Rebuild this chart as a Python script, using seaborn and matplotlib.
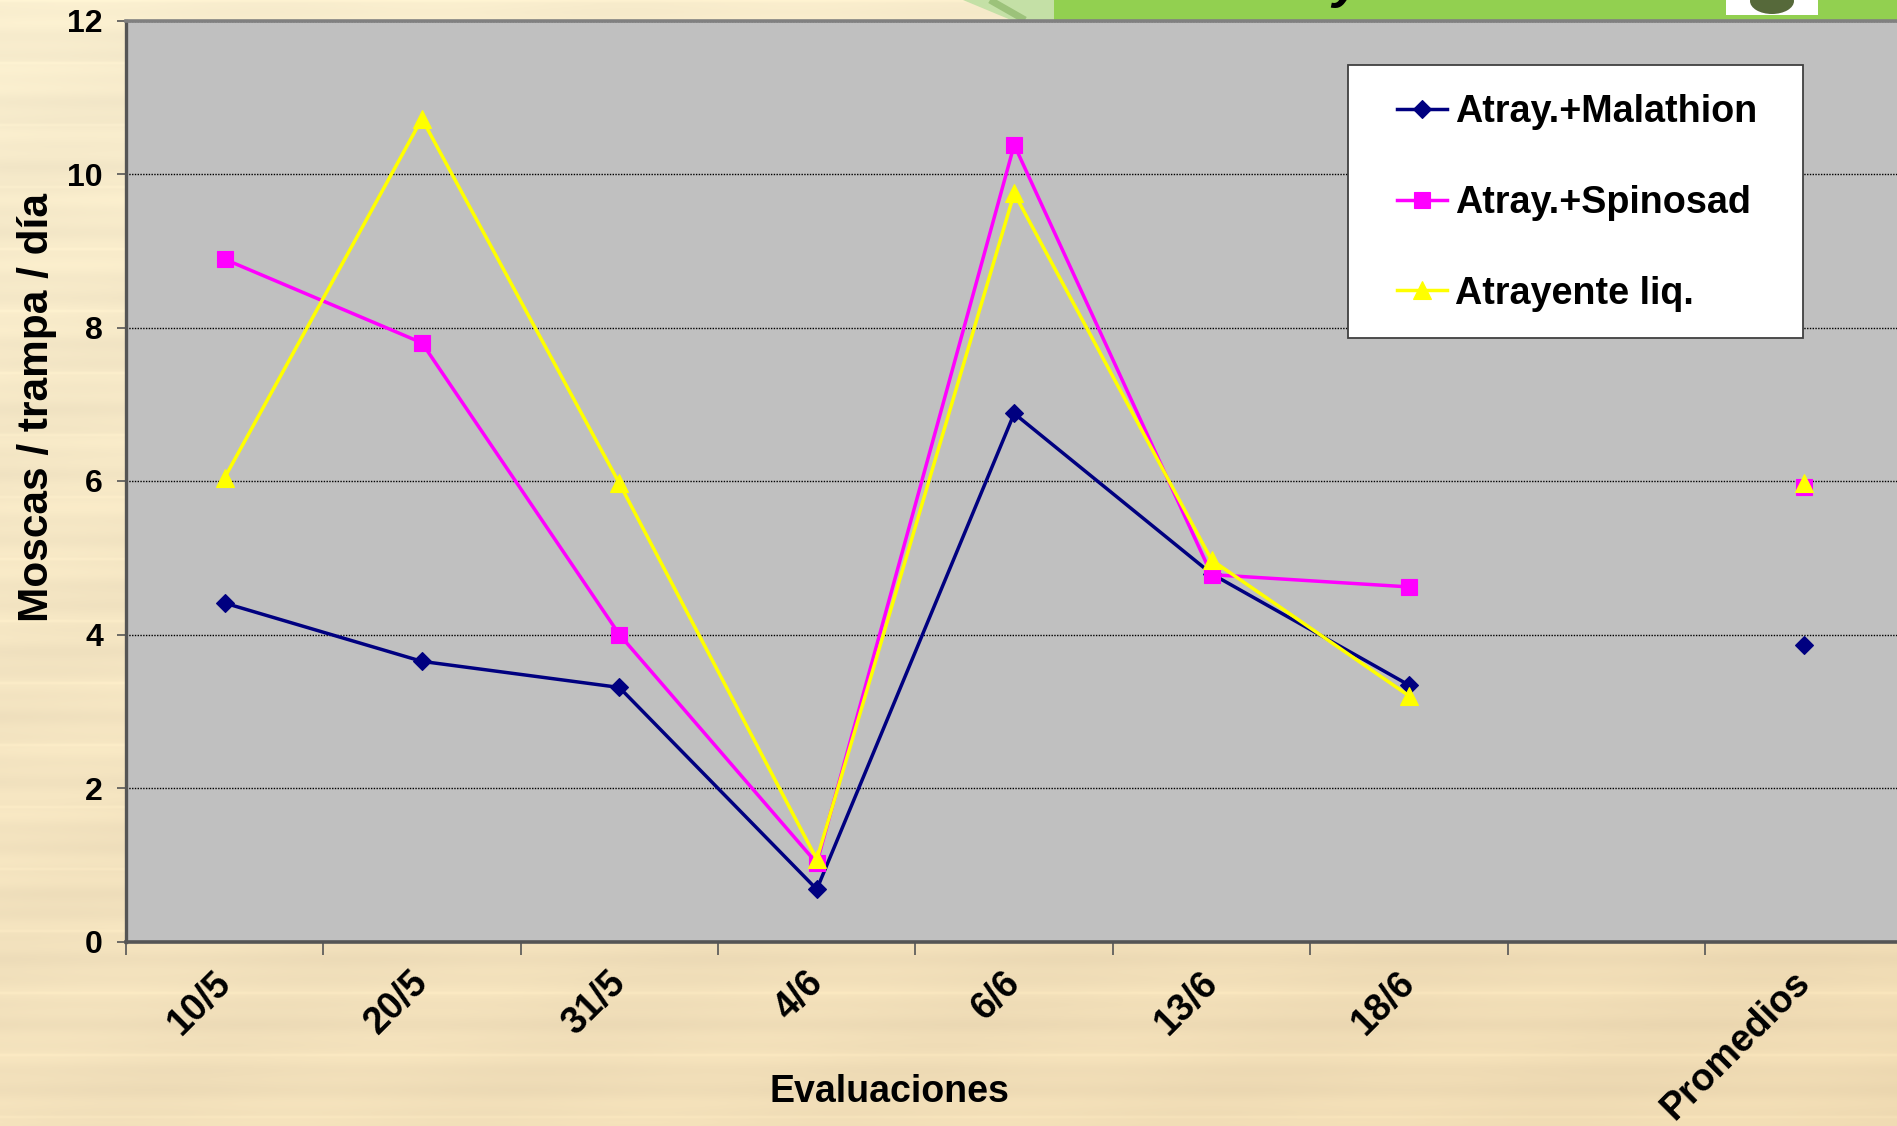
import numpy as np
import pandas as pd
import matplotlib
matplotlib.use("Agg")
import matplotlib.pyplot as plt
import seaborn as sns
from matplotlib.patches import Rectangle, Polygon, Ellipse
from matplotlib.transforms import ScaledTranslation

# ---- data -------------------------------------------------------------
fechas = ["10/5", "20/5", "31/5", "4/6", "6/6", "13/6", "18/6"]
etiquetas_x = fechas + ["", "Promedios"]

malathion = [4.41, 3.65, 3.31, 0.68, 6.88, 4.79, 3.34]
spinosad = [8.89, 7.80, 4.00, 1.02, 10.38, 4.78, 4.62]
atrayente = [6.04, 10.72, 5.97, 1.07, 9.75, 4.97, 3.20]

promedio_malathion = 3.86
promedio_spinosad = 5.92
promedio_atrayente = 5.98

nombres = ["Atray.+Malathion", "Atray.+Spinosad", "Atrayente liq."]
colores = ["#000080", "#FF00FF", "#FFFF00"]
marcadores = ["D", "s", "^"]
tamanos = [9.0, 11.5, 12.5]

valores = [malathion, spinosad, atrayente]
promedios = [promedio_malathion, promedio_spinosad, promedio_atrayente]

W, H = 1897, 1126
plt.rcParams["font.family"] = ["Liberation Sans", "DejaVu Sans"]

fig = plt.figure(figsize=(W / 100, H / 100), dpi=100)

# ---- slide background (parchment with faint horizontal grain) ---------
bg = fig.add_axes([0, 0, 1, 1], zorder=-10)
h, w = 563, 949
yy, xx = np.mgrid[0:h, 0:w]
fy, fx = yy / h, xx / w
top = np.array([248, 237, 206], float)
bot = np.array([239, 218, 178], float)
t = np.clip(0.7 * fy + 0.3 * fx, 0, 1)[..., None]
img = top * (1 - t) + bot * t
grain = (2.4 * np.sin(yy * 2 * np.pi / 30.5) + 1.6 * np.sin(yy * 2 * np.pi / 11.0 + 1.3)
         + 1.4 * np.sin(xx * 2 * np.pi / 180.0 + yy * 0.05))
lines = np.where((yy % 31) < 1, 6.0, 0.0)
img = img + (grain + lines)[..., None] * np.array([1.0, 1.0, 0.8])
img = np.clip(img, 0, 255) / 255.0
bg.imshow(img, extent=[0, W, H, 0], aspect="auto", interpolation="bilinear")
bg.set_xlim(0, W)
bg.set_ylim(H, 0)
bg.axis("off")

# title banner strip along the top edge
bg.add_patch(Polygon([(963, 0), (1054, 0), (1054, 20), (1011, 20)],
                     closed=True, facecolor="#C4E0A6", edgecolor="none"))
bg.plot([990, 1025], [0, 20], color="#9CC27A", lw=5, solid_capstyle="butt")
bg.add_patch(Rectangle((1054, 0), W - 1054, 20, facecolor="#92D050", edgecolor="none"))
bg.add_patch(Rectangle((1726, 0), 92, 15, facecolor="white", edgecolor="none"))
bg.add_patch(Ellipse((1772, 1), 44, 26, facecolor="#56693A", edgecolor="none"))
fig.text(1332 / W, 1 + 3 / H, "y", fontsize=38, fontweight="bold", style="italic",
         ha="left", va="baseline", color="black")

# ---- chart ------------------------------------------------------------
left, right = 125.8, 1902.6
top_px, bottom_px = 20.5, 941.5
ax = fig.add_axes([left / W, (H - bottom_px) / H, (right - left) / W, (bottom_px - top_px) / H])
ax.set_facecolor("#C0C0C0")

posiciones = np.arange(len(fechas))
for nombre, vals, prom, col, mk, ms in zip(nombres, valores, promedios, colores, marcadores, tamanos):
    df = pd.DataFrame({"x": posiciones, "y": vals})
    sns.lineplot(data=df, x="x", y="y", ax=ax, color=col, marker=mk, markersize=ms,
                 markeredgecolor=col, markeredgewidth=0.8, linewidth=2.5, label=nombre)
    dfp = pd.DataFrame({"x": [len(etiquetas_x) - 1], "y": [prom]})
    sns.lineplot(data=dfp, x="x", y="y", ax=ax, color=col, marker=mk, markersize=ms,
                 markeredgecolor=col, markeredgewidth=0.8, linestyle="", label="_nolegend_")

ax.set_xlim(-0.5, len(etiquetas_x) - 0.5)
ax.set_ylim(0, 12)
ax.set_yticks(np.arange(0, 13, 2))
ax.set_axisbelow(True)
ax.yaxis.grid(True, color="black", linestyle=(0, (1, 1)), linewidth=1.0)
ax.xaxis.grid(False)

ax.spines["right"].set_visible(False)
ax.spines["top"].set_color("#808080")
ax.spines["top"].set_linewidth(2.6)
ax.spines["left"].set_color("#555555")
ax.spines["left"].set_linewidth(2.4)
ax.spines["bottom"].set_color("#555555")
ax.spines["bottom"].set_linewidth(2.6)

# category boundaries carry the tick marks, labels sit at the centres
ax.set_xticks(np.arange(-0.5, len(etiquetas_x), 1.0))
ax.set_xticklabels([])
ax.set_xticks(np.arange(len(etiquetas_x)), minor=True)
ax.set_xticklabels(etiquetas_x, minor=True, fontsize=27, fontweight="bold")
ax.tick_params(axis="x", which="major", direction="out", length=9.5, width=1.2, color="#555555")
ax.tick_params(axis="x", which="minor", length=0, pad=16.5)
shift = ScaledTranslation(-12 / 100, 0, fig.dpi_scale_trans)
for lab in ax.get_xticklabels(minor=True):
    lab.set_rotation(45)
    lab.set_rotation_mode("anchor")
    lab.set_ha("right")
    lab.set_va("top")
    lab.set_transform(lab.get_transform() + shift)

ax.tick_params(axis="y", direction="out", length=6.5, width=1.2, color="#555555", pad=10,
               labelsize=23)
for lab in ax.get_yticklabels():
    lab.set_fontweight("bold")

ax.set_xlabel("Evaluaciones", fontsize=27, fontweight="bold")
ax.xaxis.set_label_coords((889 - left) / (right - left), (bottom_px - 1102) / (bottom_px - top_px))
ax.xaxis.label.set_va("baseline")
ax.set_ylabel("Moscas / trampa / día", fontsize=30.5, fontweight="bold")
ax.yaxis.set_label_coords((48 - left) / (right - left), (bottom_px - 408) / (bottom_px - top_px))
ax.yaxis.label.set_va("baseline")
ax.yaxis.label.set_ha("center")

# legend box
ax.add_patch(Rectangle((1348 / W, 1 - 338 / H), (1803 - 1348) / W, (338 - 65) / H,
                       transform=fig.transFigure, facecolor="white", clip_on=False,
                       edgecolor="#404040", linewidth=1.3, zorder=5))
handles, labels = ax.get_legend_handles_labels()
leg = ax.legend(handles, labels, loc="upper left",
                bbox_to_anchor=(1397 / W, 1 - 94 / H), bbox_transform=fig.transFigure,
                frameon=False, prop={"size": 27.2, "weight": "bold"},
                handlelength=1.32, handletextpad=0.22, labelspacing=1.45,
                borderpad=0, borderaxespad=0)
leg.set_zorder(6)

fig.savefig("out.png", dpi=100)
